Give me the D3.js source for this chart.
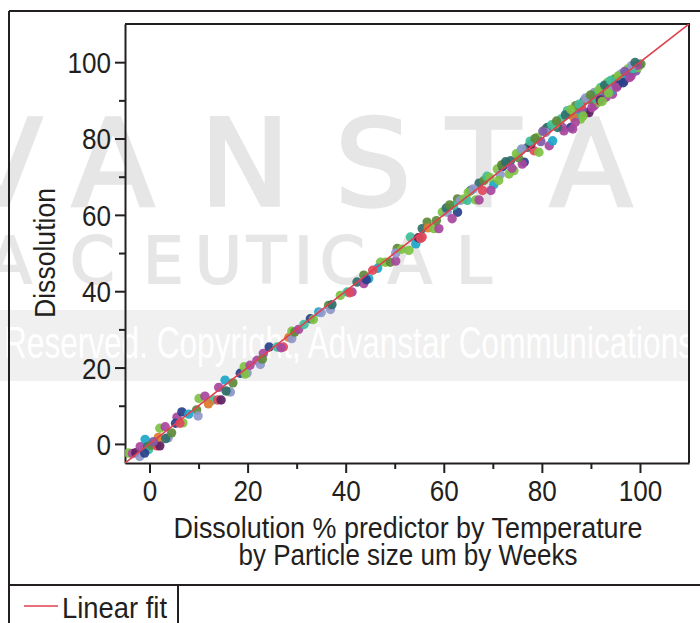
<!DOCTYPE html>
<html lang="en">
<head>
    <meta charset="utf-8">
    <title>Dissolution fit</title>
    <script src="https://d3js.org/d3.v7.min.js"></script>
    <style>
        body { margin: 0; background: #fff; }
        svg { display: block; }
        .tick text { font: 29px "Liberation Sans Narrow", "Liberation Sans", sans-serif; fill: #231f20; }
        .axis path, .axis line { stroke: #231f20; stroke-width: 2px; }
        .label { font: 29px "Liberation Sans Narrow", "Liberation Sans", sans-serif; fill: #231f20; }
        .wm { font-family: "DejaVu Sans", sans-serif; fill: #e6e6e6; stroke: #e6e6e6; }
    </style>
</head>
<body>
<script>

    // predicted (x) vs observed (y) dissolution, with a group index for colour
    var predicted = [
        -4.3, -3.5, -2.8, -2.0, -1.9, -0.9, -0.4, -0.2, 0.3, 1.5, 2.1, 1.8, 2.1, 3.2, 3.8, 3.3, 4.5, 5.6, 5.3, 6.6,
        6.8, 6.2, 9.6, 9.9, 10.1, 11.3, 13.0, 13.9, 14.6, 14.1, 15.4, 16.0, 16.5, 15.6, 18.5, 19.3, 19.9, 19.5, 20.5, 21.9,
        22.6, 23.2, 23.0, 24.4, 26.0, 27.3, 26.8, 28.4, 29.0, 29.0, 29.6, 30.4, 32.8, 33.4, 34.5, 36.5, 36.9, 37.2, 38.9, 40.3,
        41.3, 40.8, 42.3, 43.7, 44.7, 43.7, 44.2, 47.1, 48.1, 49.1, 50.2, 50.5, 50.2, 51.4, 52.9, 53.2, 54.3, 55.6, 54.8, 55.3,
        55.6, 56.6, 56.8, 58.0, 59.0, 59.7, 60.7, 62.8, 61.7, 62.8, 63.4, 64.1, 66.5, 67.2, 65.5, 64.8, 67.2, 68.2, 67.9, 70.2,
        69.6, 70.9, 73.0, 73.6, 74.3, 73.3, 76.4, 76.0, 75.7, 77.1, 78.4, 79.4, 81.5, 82.2, 79.1, 80.8, 81.1, 80.8, 84.2, 83.9,
        85.9, 84.5, 83.2, 85.6, 86.3, 87.9, 87.3, 85.2, 86.9, 88.6, 89.0, 89.6, 89.3, 90.7, 91.4, 90.7, 92.0, 91.7, 92.0, 93.1,
        93.4, 93.4, 94.4, 94.1, 94.8, 95.4, 95.4, 96.1, 96.8, 96.5, 97.5, 97.5, 98.2, 98.0, 98.8, 99.2, 99.6, 99.9, 100.2, 87.0,
        88.2, 90.0, 91.0, 92.5, 93.8, 95.0, 96.0, 97.0, 98.5, 99.5, 88.0, 86.5, 77.8, 75.2, 72.0, 71.5, 62.0, 58.5, 46.5, 45.5,
        35.0, 31.5, 17.0, 12.0, 8.0, -1.0, 0.8, 82.8, 79.8, 91.2, 60.5, 61.2, 65.0, 66.0, 68.8, 69.4, 71.8, 72.6, 74.8, 75.9,
        77.6, 78.6, 80.2, 82.0, 83.0, 84.8, 85.9, 87.6, 88.9, 89.9, 91.6, 92.8, 94.0, 95.6, 96.9, 98.3, 99.0, 86.8, 88.4, 90.2,
        91.9, 93.6, 95.2, 96.6, 97.9, 92.3, 73.9, 71.2
    ];
    var observed = [
        -2.4, -2.5, -2.3, -3.3, -0.7, 1.2, -0.7, -1.5, -0.3, -0.5, -0.5, 1.7, 4.1, 4.5, 1.6, 1.4, 2.9, 7.0, 5.4, 8.4,
        5.5, 5.4, 8.9, 7.3, 11.9, 12.5, 11.5, 11.5, 11.5, 14.8, 16.7, 13.7, 13.6, 13.9, 18.5, 20.2, 18.6, 18.3, 20.6, 21.9,
        20.8, 23.7, 22.2, 25.4, 25.4, 25.4, 25.2, 27.9, 27.6, 29.5, 29.3, 30.0, 32.8, 32.6, 34.6, 36.3, 35.2, 36.5, 38.9, 39.8,
        39.8, 39.6, 42.4, 44.2, 43.3, 42.0, 43.0, 47.6, 47.6, 47.6, 47.9, 51.2, 50.0, 51.0, 50.7, 54.2, 52.4, 54.2, 54.0, 53.8,
        56.4, 58.1, 56.6, 56.4, 56.4, 60.7, 60.7, 60.7, 59.0, 64.2, 63.8, 64.2, 63.9, 63.9, 66.4, 63.8, 68.3, 69.0, 66.4, 67.9,
        66.4, 72.0, 73.5, 74.2, 71.6, 70.7, 73.8, 73.3, 76.8, 77.7, 76.8, 76.4, 78.1, 79.4, 80.3, 82.5, 82.9, 81.6, 82.9, 85.1,
        82.9, 82.0, 82.9, 86.4, 82.5, 85.1, 87.7, 87.3, 88.6, 89.9, 86.8, 86.8, 90.3, 88.6, 89.4, 92.1, 91.6, 89.9, 93.4, 90.8,
        93.4, 94.7, 91.6, 92.5, 95.6, 94.7, 93.8, 96.9, 95.1, 96.0, 96.9, 98.2, 96.4, 97.5, 99.0, 97.7, 98.6, 99.5, 99.5, 86.0,
        87.5, 90.2, 90.5, 92.0, 93.2, 94.5, 95.4, 96.9, 98.3, 99.2, 88.6, 85.5, 78.6, 75.0, 72.6, 70.5, 62.4, 58.5, 46.0, 45.5,
        34.4, 31.3, 16.0, 10.5, 7.8, -2.4, 0.6, 83.8, 79.2, 91.8, 61.8, 62.6, 65.9, 66.8, 70.1, 69.8, 73.1, 73.9, 76.0, 77.3,
        79.3, 80.0, 81.9, 83.6, 84.6, 86.2, 87.6, 89.0, 90.6, 91.4, 92.7, 94.0, 95.2, 96.4, 97.6, 99.1, 99.9, 84.2, 85.9, 88.1,
        90.1, 91.9, 93.4, 94.6, 96.0, 89.7, 72.2, 69.0
    ];
    var group = [
        0, 1, 10, 5, 1, 3, 2, 9, 8, 7, 10, 6, 0, 1, 5, 2, 8, 1, 4, 4,
        0, 7, 8, 5, 0, 1, 9, 7, 10, 1, 3, 0, 5, 2, 4, 0, 5, 0, 1, 1,
        5, 1, 8, 4, 9, 7, 1, 6, 5, 0, 8, 1, 4, 0, 3, 8, 5, 2, 0, 9,
        1, 7, 2, 8, 3, 1, 4, 0, 0, 8, 1, 8, 5, 0, 0, 9, 3, 7, 10, 7,
        2, 8, 6, 0, 1, 0, 5, 4, 1, 8, 5, 0, 0, 1, 2, 9, 2, 8, 7, 3,
        1, 0, 5, 2, 0, 0, 4, 1, 9, 2, 7, 0, 1, 3, 0, 8, 2, 5, 1, 9,
        4, 1, 2, 0, 1, 0, 5, 9, 8, 2, 1, 10, 0, 1, 0, 5, 4, 7, 9, 1,
        2, 0, 1, 3, 8, 8, 10, 5, 1, 0, 5, 0, 1, 4, 8, 11, 0, 5, 8, 3,
        11, 8, 9, 11, 5, 2, 4, 3, 9, 1, 7, 6, 10, 8, 4, 5, 9, 8, 3, 7,
        5, 9, 8, 6, 3, 4, 11, 0, 11, 3, 2, 8, 0, 5, 9, 0, 8, 2, 0, 5,
        9, 8, 11, 9, 8, 2, 0, 9, 5, 8, 0, 2, 9, 0, 11, 5, 2, 1, 0, 1,
        10, 0, 1, 4, 1, 0, 1, 0
    ];
    var groupColors = ["#7dc243", "#a8469e", "#2f6f6a", "#1ca6c9", "#27408b", "#8f98cc",
                       "#dc7a2c", "#e2495a", "#5d8a3a", "#3fbf9b", "#5e1f62", "#7e5aa8"];

    // linear fit: observed = intercept + slope * predicted
    var fitIntercept = 0;
    var fitSlope = 1;

    var axisDomain = [-5, 110];
    var majorTicks = [0, 20, 40, 60, 80, 100];
    var minorTicks = [10, 30, 50, 70, 90];

    // ************** Layout *****************
    var width = 700, height = 623;
    var plot = {left: 125, right: 689, top: 24, bottom: 463};

    var svg = d3.select("body").append("svg")
            .attr("width", width)
            .attr("height", height);

    var x = d3.scaleLinear().domain(axisDomain).range([plot.left, plot.right]);
    var y = d3.scaleLinear().domain(axisDomain).range([plot.bottom, plot.top]);

    // squeeze a text to a width if the font runs wider than the original
    function fitWidth(sel, w) {
        sel.each(function() {
            var target = typeof w === "function" ? w(this) : w;
            if (this.getComputedTextLength() > target) {
                d3.select(this).attr("textLength", target).attr("lengthAdjust", "spacingAndGlyphs");
            }
        });
    }

    // ************** Watermark (behind everything) *****************
    var wm = svg.append("g");
    var bigLetters = [["V", -40], ["A", 72], ["N", 200], ["S", 335], ["T", 447], ["A", 550]];
    wm.selectAll("text.big")
            .data(bigLetters)
            .enter().append("text")
            .attr("class", "wm big")
            .attr("x", function(d) { return d[1]; })
            .attr("y", 205)
            .style("font-size", "120px")
            .style("stroke-width", "3.5px")
            .text(function(d) { return d[0]; });
    var smallLetters = [["A", -12], ["C", 70], ["E", 143], ["U", 195], ["T", 247], ["I", 294],
                        ["C", 320], ["A", 388], ["L", 456]];
    wm.selectAll("text.small")
            .data(smallLetters)
            .enter().append("text")
            .attr("class", "wm small")
            .attr("x", function(d) { return d[1]; })
            .attr("y", 283)
            .style("font-size", "64px")
            .style("stroke-width", "2px")
            .text(function(d) { return d[0]; });
    wm.append("rect")
            .attr("x", 0).attr("y", 310)
            .attr("width", plot.right).attr("height", 71)
            .attr("fill", "#f0f0f0");
    wm.append("text")
            .attr("x", 4).attr("y", 358)
            .attr("textLength", 690)
            .attr("lengthAdjust", "spacingAndGlyphs")
            .style("font", "44px 'Liberation Sans Narrow', 'Liberation Sans', sans-serif")
            .style("fill", "#fff")
            .text("Reserved. Copyright, Advanstar Communications");

    // ************** Frames *****************
    var frame = svg.append("g").attr("stroke", "#231f20").attr("stroke-width", 2);
    frame.append("line").attr("x1", 9).attr("x2", width).attr("y1", 11).attr("y2", 11);
    frame.append("line").attr("x1", 9).attr("x2", 9).attr("y1", 11).attr("y2", height);
    frame.append("line").attr("x1", 9).attr("x2", width).attr("y1", 585).attr("y2", 585);
    frame.append("line").attr("x1", 178).attr("x2", 178).attr("y1", 585).attr("y2", height);

    // plot box top / right
    svg.append("path")
            .attr("d", "M" + plot.left + "," + plot.top + "H" + plot.right + "V" + plot.bottom)
            .attr("fill", "none")
            .attr("stroke", "#231f20")
            .attr("stroke-width", 2);

    // ************** Axes *****************
    var xAxis = svg.append("g").attr("class", "axis")
            .attr("transform", "translate(0," + plot.bottom + ")")
            .call(d3.axisBottom(x).tickValues(majorTicks).tickSize(10).tickPadding(7).tickSizeOuter(0));
    svg.append("g").attr("class", "axis")
            .attr("transform", "translate(0," + plot.bottom + ")")
            .call(d3.axisBottom(x).tickValues(minorTicks).tickSize(6).tickFormat("").tickSizeOuter(0))
            .select(".domain").remove();

    var yAxis = svg.append("g").attr("class", "axis")
            .attr("transform", "translate(" + plot.left + ",0)")
            .call(d3.axisLeft(y).tickValues(majorTicks).tickSize(10).tickPadding(4).tickSizeOuter(0));
    svg.append("g").attr("class", "axis")
            .attr("transform", "translate(" + plot.left + ",0)")
            .call(d3.axisLeft(y).tickValues(minorTicks).tickSize(6).tickFormat("").tickSizeOuter(0))
            .select(".domain").remove();

    xAxis.selectAll(".tick text").attr("dy", "0.72em");
    yAxis.selectAll(".tick text").attr("dy", "0.36em");

    var digitWidth = function(el) { return el.textContent.length * 14.5; };
    fitWidth(xAxis.selectAll(".tick text"), digitWidth);
    fitWidth(yAxis.selectAll(".tick text"), digitWidth);

    // ************** Points *****************
    svg.append("clipPath").attr("id", "clip")
            .append("rect")
            .attr("x", plot.left).attr("y", plot.top)
            .attr("width", plot.right - plot.left).attr("height", plot.bottom - plot.top);

    var body = svg.append("g").attr("clip-path", "url(#clip)");

    body.selectAll("circle")
            .data(d3.range(predicted.length))
            .enter().append("circle")
            .attr("cx", function(i) { return x(predicted[i]); })
            .attr("cy", function(i) { return y(observed[i]); })
            .attr("r", 4.7)
            .attr("fill", function(i) { return groupColors[group[i]]; })
            .attr("fill-opacity", 0.92);

    body.append("line")
            .attr("x1", x(axisDomain[0])).attr("y1", y(fitIntercept + fitSlope * axisDomain[0]))
            .attr("x2", x(axisDomain[1])).attr("y2", y(fitIntercept + fitSlope * axisDomain[1]))
            .attr("stroke", "#e0404f")
            .attr("stroke-width", 1.6);

    // ************** Titles *****************
    var t1 = svg.append("text").attr("class", "label")
            .attr("text-anchor", "middle")
            .attr("x", 408).attr("y", 538)
            .text("Dissolution % predictor by Temperature");
    var t2 = svg.append("text").attr("class", "label")
            .attr("text-anchor", "middle")
            .attr("x", 408).attr("y", 565)
            .text("by Particle size um by Weeks");
    fitWidth(t1, 469);
    fitWidth(t2, 339);

    var yt = svg.append("text").attr("class", "label")
            .attr("text-anchor", "middle")
            .attr("transform", "translate(55,253) rotate(-90)")
            .text("Dissolution");
    fitWidth(yt, 130);

    // ************** Legend *****************
    svg.append("line")
            .attr("x1", 24).attr("x2", 58).attr("y1", 606).attr("y2", 606)
            .attr("stroke", "#e0404f").attr("stroke-width", 1.6);
    var lt = svg.append("text").attr("class", "label")
            .attr("x", 62).attr("y", 618)
            .text("Linear fit");
    fitWidth(lt, 105);

</script>
</body>
</html>
